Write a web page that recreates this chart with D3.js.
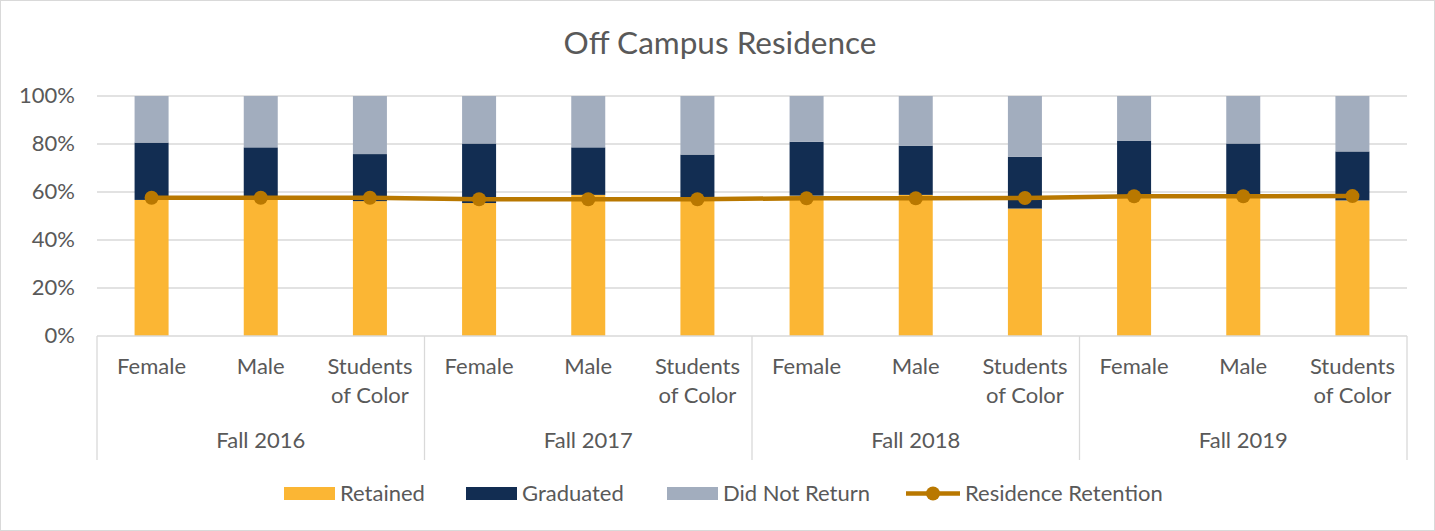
<!DOCTYPE html>
<html><head><meta charset="utf-8">
<script src="https://cdn.jsdelivr.net/npm/d3@7"></script>
<style>body{margin:0;background:#fff}svg{display:block}text{font-family:Lato,"Open Sans",sans-serif;fill:#595959}</style>
</head><body><div id="chart"></div>
<script>
const groups = ["Fall 2016","Fall 2017","Fall 2018","Fall 2019"];
const subcats = ["Female","Male","Students of Color"];
const retained   = [56.7,57.5,56.2, 55.4,58.8,57.0, 58.5,58.8,53.1, 58.5,58.5,56.5];
const graduated  = [23.9,21.1,19.6, 24.8,19.8,18.6, 22.4,20.5,21.6, 22.9,21.7,20.4];
const didNotReturn=[19.4,21.4,24.2, 19.8,21.4,24.4, 19.1,20.7,25.3, 18.6,19.8,23.1];
const residenceRetention=[57.6,57.6,57.6, 57.0,57.0,57.0, 57.4,57.4,57.5, 58.2,58.2,58.3];
const yTicks=[0,20,40,60,80,100];
const seriesNames=["Retained","Graduated","Did Not Return"];
const colors={"Retained":"#FBB634","Graduated":"#122D52","Did Not Return":"#A2ADBE"};
const lineColor="#B97800";

const W=1435,H=531;
const svg=d3.select("#chart").append("svg").attr("width",W).attr("height",H);
svg.append("rect").attr("x",0.5).attr("y",0.5).attr("width",W-1).attr("height",H-1).attr("fill","#fff").attr("stroke","#D9D9D9");

const L=97,R=1407,T=96,B=336;
const fs="22px";
const cats=[];groups.forEach((g,gi)=>subcats.forEach((s,si)=>cats.push({g,s,i:gi*3+si})));
const x=d3.scaleBand().domain(cats.map(d=>d.i)).range([L,R]).padding(0);
const xg=d3.scaleBand().domain(groups).range([L,R]);
const y=d3.scaleLinear().domain([0,100]).range([B,T]);

svg.append("text").attr("x",720).attr("y",54).attr("text-anchor","middle").style("font-size","31.5px").text("Off Campus Residence");

// gridlines
svg.append("g").selectAll("line").data(yTicks.filter(d=>d>0)).join("line")
 .attr("x1",L).attr("x2",R).attr("y1",d=>y(d)).attr("y2",d=>y(d)).attr("stroke","#D9D9D9").attr("stroke-width",1.3);
svg.append("g").selectAll("text").data(yTicks).join("text")
 .attr("x",75).attr("y",d=>y(d)+7).attr("text-anchor","end").style("font-size",fs).text(d=>d+"%");

// stacked bars
const rows=cats.map(c=>({i:c.i,"Retained":retained[c.i],"Graduated":graduated[c.i],"Did Not Return":didNotReturn[c.i]}));
const stack=d3.stack().keys(seriesNames)(rows);
const bw=34;
svg.append("g").selectAll("g").data(stack).join("g").attr("fill",d=>colors[d.key])
 .selectAll("rect").data(d=>d).join("rect")
 .attr("x",d=>x(d.data.i)+x.bandwidth()/2-bw/2).attr("width",bw)
 .attr("y",d=>y(d[1])).attr("height",d=>y(d[0])-y(d[1]));

// axis lines
svg.append("line").attr("x1",L).attr("x2",R).attr("y1",B).attr("y2",B).attr("stroke","#D9D9D9").attr("stroke-width",1.3);
const seps=groups.map(g=>xg(g)).concat([R]);
svg.append("g").selectAll("line").data(seps).join("line")
 .attr("x1",d=>d).attr("x2",d=>d).attr("y1",B).attr("y2",460).attr("stroke","#D9D9D9").attr("stroke-width",1.3);

// category labels
const cl=svg.append("g").selectAll("text").data(cats).join("text")
 .attr("text-anchor","middle").style("font-size",fs)
 .attr("x",d=>x(d.i)+x.bandwidth()/2).attr("y",374);
cl.each(function(d){
  const t=d3.select(this);
  if(d.s==="Students of Color"){
    t.append("tspan").attr("x",x(d.i)+x.bandwidth()/2).attr("dy",0).text("Students");
    t.append("tspan").attr("x",x(d.i)+x.bandwidth()/2).attr("dy",29).text("of Color");
  } else t.text(d.s);
});
svg.append("g").selectAll("text").data(groups).join("text")
 .attr("text-anchor","middle").style("font-size",fs)
 .attr("x",d=>xg(d)+xg.bandwidth()/2).attr("y",448).text(d=>d);

// line
const line=d3.line().x((d,i)=>x(i)+x.bandwidth()/2).y(d=>y(d));
svg.append("path").datum(residenceRetention).attr("d",line).attr("fill","none").attr("stroke",lineColor).attr("stroke-width",4.5);
svg.append("g").selectAll("circle").data(residenceRetention).join("circle")
 .attr("cx",(d,i)=>x(i)+x.bandwidth()/2).attr("cy",d=>y(d)).attr("r",7).attr("fill",lineColor);

// legend
const lg=svg.append("g");
const legItems=[{n:"Retained",x:284},{n:"Graduated",x:466},{n:"Did Not Return",x:667}];
legItems.forEach(it=>{
  lg.append("rect").attr("x",it.x).attr("y",487).attr("width",51).attr("height",13).attr("fill",colors[it.n]);
  lg.append("text").attr("x",it.x+56).attr("y",501).style("font-size",fs).text(it.n);
});
lg.append("line").attr("x1",906).attr("x2",960).attr("y1",493.5).attr("y2",493.5).attr("stroke",lineColor).attr("stroke-width",4.5);
lg.append("circle").attr("cx",933).attr("cy",493.5).attr("r",7).attr("fill",lineColor);
lg.append("text").attr("x",965).attr("y",501).style("font-size",fs).text("Residence Retention");
</script></body></html>
